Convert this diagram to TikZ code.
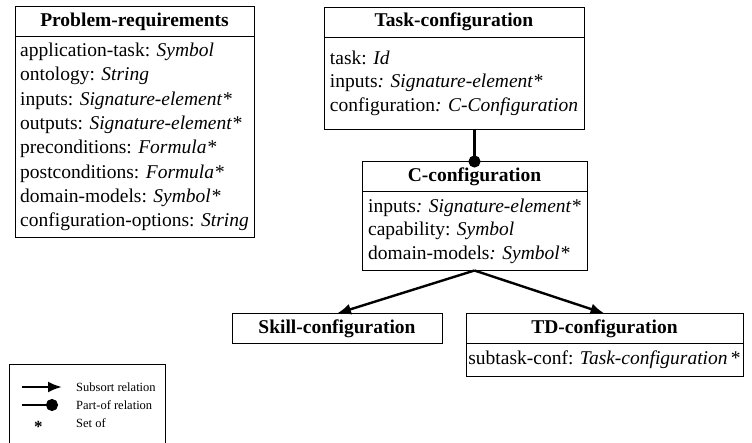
\documentclass[tikz,border=0pt]{standalone}
\usepackage{fontspec}
\setmainfont{Liberation Serif}
\usepackage{tikz}
\usetikzlibrary{positioning,arrows.meta}
\definecolor{FontColor}{HTML}{000000}
\newcommand\nodepr{Problem-requirements}
\newcommand\nodetc{Task-configuration}
\newcommand\nodecc{C-configuration}
\newcommand\nodesc{Skill-configuration}
\newcommand\nodetd{TD-configuration}
\tikzstyle{classbox} = [rectangle, draw, line width=0.9pt, outer sep=0pt, text=FontColor]
\tikzstyle{hd} = [classbox, minimum height=30pt, inner sep=0pt, font=\fontsize{19.5}{23.5}\selectfont\bfseries]
\tikzstyle{bd} = [classbox, align=left, inner sep=2pt, font=\fontsize{19.5}{23.5}\selectfont]
\tikzstyle{lg} = [text=FontColor, anchor=west, inner sep=0pt, font=\fontsize{12.5}{15}\selectfont]
\tikzset{>=latex, every picture/.style={line width=2.4pt}}
\tikzstyle{subsort} = [-{Latex[length=14pt,width=11pt]}]
\tikzstyle{partof} = [-{Circle[length=12pt]}]

\begin{document}
\begin{tikzpicture}[x=1pt,y=-1pt]
\useasboundingbox (0,0) rectangle (752,443);
\node[hd, minimum width=239] (pr) at (134.5, 21.5) {\nodepr};
\node[bd, minimum width=239, minimum height=201, below=0pt of pr, font=\fontsize{19.5}{24.3}\selectfont] (prb) {application-task: \textit{Symbol}\\ontology: \textit{String}\\inputs: \textit{Signature-element*}\\outputs: \textit{Signature-element*}\\preconditions: \textit{Formula*}\\postconditions: \textit{Formula*}\\domain-models: \textit{Symbol*}\\configuration-options: \textit{String}};
\node[hd, minimum width=260] (tc) at (454, 22) {\nodetc};
\node[bd, minimum width=260, minimum height=92, below=0pt of tc] (tcb) {task: \textit{Id}\\inputs\textit{: Signature-element*}\\configuration\textit{: C-Configuration}};
\node[hd, minimum width=225] (cc) at (474.5, 176.5) {\nodecc};
\node[bd, minimum width=225, minimum height=79, below=0pt of cc] (ccb) {inputs\textit{: Signature-element*}\\capability: \textit{Symbol}\\domain-models\textit{: Symbol*}};
\node[hd, minimum width=210] (sc) at (337, 328.5) {\nodesc};
\node[hd, minimum width=277] (td) at (604.5, 328.5) {\nodetd};
\node[bd, minimum width=277, minimum height=33, below=0pt of td] (tdb) {subtask-conf: \textit{Task-configuration}\,*};
\draw [partof, shorten >=-6pt] (cc.north |- tcb.south) -- (cc.north);
\draw [subsort] (ccb.south) -- (sc.north);
\draw [subsort] (ccb.south) -- (td.north);
% legend
\draw [line width=0.9pt] (9,364) rectangle (165,448);
\coordinate (a1) at (22,387);
\coordinate (a2) at (62,387);
\coordinate (p1) at (22,405);
\coordinate (p2) at (58,405);
\draw [subsort] (a1) -- (a2);
\draw [partof] (p1) -- (p2);
\node[lg] (ls) at (75,387) {Subsort relation};
\node[lg] (lp) at (75,405) {Part-of relation};
\node[lg, font=\fontsize{17}{17}\selectfont\bfseries] (lstar) at (33,427) {*};
\node[lg] (lset) at (75,423) {Set of};
\end{tikzpicture}
\end{document}
